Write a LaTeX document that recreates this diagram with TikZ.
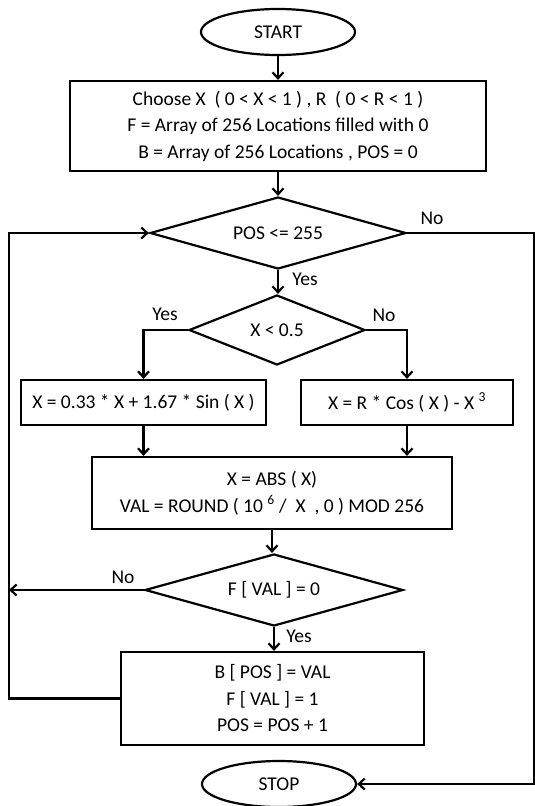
\documentclass[tikz,border=0pt]{standalone}
\usepackage{fontspec}
\setmainfont{Carlito}
\usetikzlibrary{shapes.geometric,arrows.meta}
\begin{document}
\begin{tikzpicture}[x=1pt,y=-1pt,
  every node/.style={font=\fontsize{19.5pt}{26.5pt}\selectfont},
  base/.style={draw,line width=2.2pt,inner sep=0pt,align=center},
  term/.style={base,ellipse,minimum width=154pt,minimum height=46pt},
  box/.style={base,rectangle},
  dec/.style={base,diamond,aspect=3.5},
  lbl/.style={inner sep=0pt},
  conn/.style={line width=2.2pt},
  arr/.style={conn,-{Straight Barb[length=6pt,width=11pt,line width=2.2pt]}}]
\useasboundingbox (0,0) rectangle (535,806);
\coordinate (lx) at (9,0);
\coordinate (rx) at (534,0);
\node[term] (start) at (278,32) {START};
\node[box,minimum width=416pt,minimum height=90pt] (init) at (278,126)
  {Choose X\ \ ( 0 < X < 1 ) , R\ \ ( 0 < R < 1 )\\F = Array of 256 Locations filled with 0\\B = Array of 256 Locations , POS = 0};
\node[dec,minimum width=256pt,minimum height=72pt] (d1) at (278,233) {POS <= 255};
\node[dec,minimum width=176pt,minimum height=70pt] (d2) at (277,330) {X < 0.5};
\node[box,minimum width=245pt,minimum height=45pt] (bl) at (143.5,402.5) {X = 0.33 * X + 1.67 * Sin ( X )};
\node[box,minimum width=212pt,minimum height=45pt] (br) at (407,402.5) {X = R * Cos ( X ) - X \textsuperscript{3}};
\node[box,minimum width=360pt,minimum height=72pt] (mid) at (272,493)
  {X = ABS ( X)\\VAL = ROUND ( 10 \textsuperscript{6} /\ \ X\ \ , 0 ) MOD 256};
\node[dec,minimum width=258pt,minimum height=72pt] (d3) at (274,590) {F [ VAL ] = 0};
\node[box,minimum width=303pt,minimum height=93pt] (fin) at (272.5,698.5)
  {B [ POS ] = VAL\\F [ VAL ] = 1\\POS = POS + 1};
\node[term] (stop) at (279,784) {STOP};
% labels
\node[lbl] (l1) at (432,218) {No};
\node[lbl] (l2) at (305,279) {Yes};
\node[lbl] (l3) at (165,314) {Yes};
\node[lbl] (l4) at (384,315) {No};
\node[lbl] (l5) at (123,577) {No};
\node[lbl] (l6) at (299,636) {Yes};
% connectors
\draw[arr] (start) -- (init);
\draw[arr] (init.south) -- (init.south |- d1.north);
\draw[arr] (d1.south) -- (d1.south |- d2.north);
\draw[arr] (d2.west) -| (bl.north);
\draw[arr] (d2.east) -| (br.north);
\draw[arr] (bl.south) -- (bl.south |- mid.north);
\draw[arr] (br.south) -- (br.south |- mid.north);
\draw[arr] (mid.south) -- (mid.south |- d3.north);
\draw[arr] (d3.west) -- (d3.west -| lx);
\draw[arr] (d3.south) -- (d3.south |- fin.north);
\draw[arr] (fin.west) -- (fin.west -| lx) -- (d1.west -| lx) -- (d1.west);
\draw[arr] (d1.east) -- (d1.east -| rx) -- (stop.east -| rx) -- (stop.east);
\end{tikzpicture}
\end{document}
